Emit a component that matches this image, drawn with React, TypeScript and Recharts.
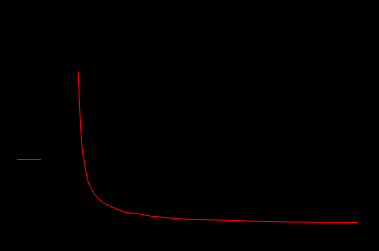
import React from "react";
import { LineChart, Line, XAxis, YAxis } from "recharts";

const xs = [0.01, 0.036, 0.107, 0.143, 0.214, 0.32, 0.5, 0.71, 0.93, 1.32, 1.68, 2.21, 2.57, 2.93, 3.29, 3.71, 5.0, 6.04, 7.57, 10.0];
const ys = [6.0, 5.25, 3.86, 3.32, 2.86, 2.25, 1.79, 1.5, 1.32, 1.14, 1.0, 0.93, 0.857, 0.82, 0.786, 0.75, 0.714, 0.68, 0.643, 0.625];
const seriesName = "series";
const color = "#ff0000";

const data = xs.map((x, i) => ({ x, y: ys[i] }));

export default function App() {
  return (
    <div style={{ position: "fixed", left: 0, top: 0, width: 379, height: 251, background: "#000", overflow: "hidden" }}>
      <LineChart width={379} height={251} data={data} margin={{ top: 72, right: 21, bottom: 11, left: 78 }}>
        <XAxis dataKey="x" type="number" domain={[0, 10]} hide />
        <YAxis type="number" domain={[0, 6]} hide />
        <Line dataKey="y" name={seriesName} type="monotone" stroke={color} strokeWidth={1} dot={false} isAnimationActive={false} />
      </LineChart>
      <div style={{ position: "absolute", left: 17, top: 159, width: 24, height: 1, background: color }} />
    </div>
  );
}
